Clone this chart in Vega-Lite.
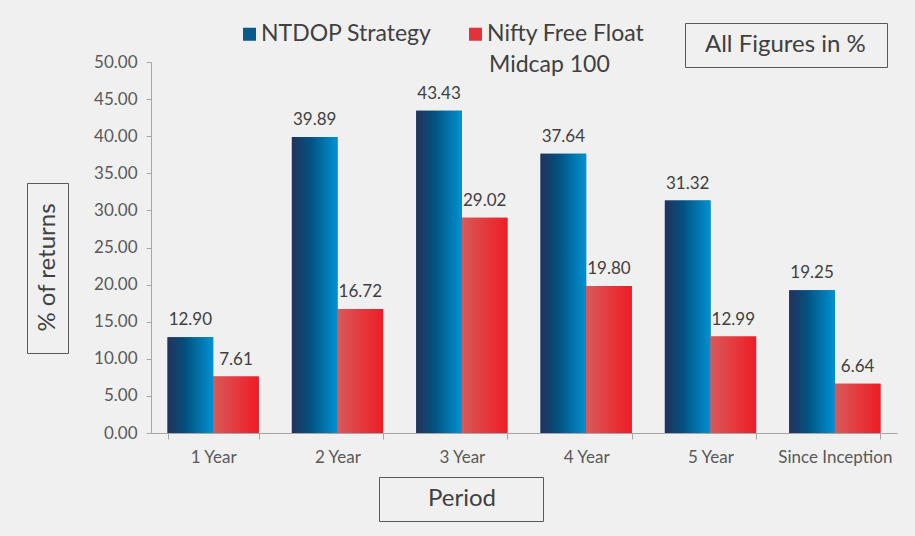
{
  "$schema": "https://vega.github.io/schema/vega-lite/v6.json",
  "width": 746,
  "height": 371,
  "autosize": {"type": "none"},
  "padding": {"left": 151, "top": 62, "right": 18, "bottom": 103},
  "background": "#f0f0f0",
  "config": {
    "view": {"stroke": null},
    "font": "Lato"
  },
  "data": {
    "values": [
      {"period": "1 Year", "series": "NTDOP Strategy", "value": 12.90},
      {"period": "1 Year", "series": "Nifty Free Float Midcap 100", "value": 7.61},
      {"period": "2 Year", "series": "NTDOP Strategy", "value": 39.89},
      {"period": "2 Year", "series": "Nifty Free Float Midcap 100", "value": 16.72},
      {"period": "3 Year", "series": "NTDOP Strategy", "value": 43.43},
      {"period": "3 Year", "series": "Nifty Free Float Midcap 100", "value": 29.02},
      {"period": "4 Year", "series": "NTDOP Strategy", "value": 37.64},
      {"period": "4 Year", "series": "Nifty Free Float Midcap 100", "value": 19.80},
      {"period": "5 Year", "series": "NTDOP Strategy", "value": 31.32},
      {"period": "5 Year", "series": "Nifty Free Float Midcap 100", "value": 12.99},
      {"period": "Since Inception", "series": "NTDOP Strategy", "value": 19.25},
      {"period": "Since Inception", "series": "Nifty Free Float Midcap 100", "value": 6.64}
    ]
  },
  "encoding": {
    "x": {
      "field": "period",
      "type": "nominal",
      "sort": ["1 Year", "2 Year", "3 Year", "4 Year", "5 Year", "Since Inception"],
      "scale": {"paddingInner": 0.266, "paddingOuter": 0.133},
      "axis": {
        "title": null,
        "labelAngle": 0,
        "labelFontSize": 17,
        "labelColor": "#595959",
        "domainColor": "#a6a6a6",
        "tickColor": "#a6a6a6",
        "tickSize": 6,
        "tickBand": "extent",
        "labelPadding": 10
      }
    },
    "xOffset": {
      "field": "series",
      "type": "nominal",
      "sort": ["NTDOP Strategy", "Nifty Free Float Midcap 100"]
    },
    "y": {
      "field": "value",
      "type": "quantitative",
      "scale": {"domain": [0, 50], "nice": false},
      "axis": {
        "title": "% of returns",
        "titleX": -104,
        "titleY": 205,
        "titleAngle": -90,
        "titleAlign": "center",
        "titleBaseline": "middle",
        "titleFontSize": 24,
        "titleFontWeight": "normal",
        "titleColor": "#404040",
        "values": [0, 5, 10, 15, 20, 25, 30, 35, 40, 45, 50],
        "format": ".2f",
        "labelFontSize": 17,
        "labelColor": "#595959",
        "domainColor": "#a6a6a6",
        "tickColor": "#a6a6a6",
        "tickSize": 5,
        "labelPadding": 9,
        "grid": false
      }
    }
  },
  "layer": [
    {
      "mark": {"type": "bar"},
      "encoding": {
        "color": {
          "field": "series",
          "type": "nominal",
          "sort": ["NTDOP Strategy", "Nifty Free Float Midcap 100"],
          "scale": {"domain": ["NTDOP Strategy", "Nifty Free Float Midcap 100"], "range": ["#0a5a8c", "#e3333a"]},
          "legend": {
            "title": null,
            "orient": "none",
            "legendX": 87,
            "legendY": -39.5,
            "padding": 0,
            "direction": "horizontal",
            "columns": 2,
            "columnPadding": 32,
            "labelFontSize": 23,
            "labelColor": "#404040",
            "labelLimit": 400,
            "labelOffset": 0,
            "symbolType": "square",
            "symbolSize": 169,
            "symbolStrokeWidth": 0,
            "labelExpr": "datum.label == 'Nifty Free Float Midcap 100' ? 'Nifty Free Float' : datum.label"
          }
        }
      }
    },
    {
      "mark": {"type": "bar"},
      "encoding": {
        "fill": {
          "condition": {
            "test": "datum.series === 'NTDOP Strategy'",
            "value": {
              "gradient": "linear", "x1": 0, "x2": 1, "y1": 0, "y2": 0,
              "stops": [
                {"offset": 0, "color": "#24315b"},
                {"offset": 0.4, "color": "#03527f"},
                {"offset": 1, "color": "#0092d4"}
              ]
            }
          },
          "value": {
            "gradient": "linear", "x1": 0, "x2": 1, "y1": 0, "y2": 0,
            "stops": [
              {"offset": 0, "color": "#d85a5a"},
              {"offset": 1, "color": "#ee1c25"}
            ]
          }
        }
      }
    },
    {
      "mark": {"type": "text", "dy": -17, "fontSize": 17, "color": "#404040", "baseline": "middle"},
      "encoding": {
        "text": {"field": "value", "type": "quantitative", "format": ".2f"}
      }
    },
    {
      "mark": {"type": "point", "opacity": 0},
      "encoding": {
        "x": null, "xOffset": null, "y": null,
        "shape": {
          "datum": "Midcap 100",
          "type": "nominal",
          "legend": {
            "title": null,
            "orient": "none",
            "legendX": 315,
            "legendY": -8.5,
            "padding": 0,
            "labelFontSize": 23,
            "labelColor": "#404040",
            "labelLimit": 400,
            "labelOffset": 0,
            "symbolSize": 0,
            "symbolOpacity": 0,
            "symbolStrokeWidth": 0
          }
        }
      }
    },
    {
      "mark": {"type": "point", "opacity": 0},
      "encoding": {
        "x": null, "xOffset": null, "y": null,
        "strokeDash": {
          "datum": "All Figures in %",
          "type": "nominal",
          "legend": {
            "title": ".",
            "titleOrient": "right",
            "titleFontSize": 1,
            "titleOpacity": 0,
            "titlePadding": 10,
            "orient": "none",
            "legendX": 534,
            "legendY": -39,
            "padding": 10,
            "strokeColor": "#595959",
            "labelFontSize": 24,
            "labelColor": "#404040",
            "labelLimit": 400,
            "labelOffset": -14,
            "symbolSize": 0,
            "symbolOpacity": 0,
            "symbolStrokeWidth": 0
          }
        }
      }
    },
    {
      "mark": {"type": "point", "opacity": 0},
      "encoding": {
        "x": null, "xOffset": null, "y": null,
        "fill": {
          "datum": "Period",
          "type": "nominal",
          "legend": {
            "title": ".",
            "titleOrient": "right",
            "titleFontSize": 1,
            "titleOpacity": 0,
            "titlePadding": 36,
            "orient": "none",
            "legendX": 228,
            "legendY": 415,
            "padding": 10,
            "strokeColor": "#595959",
            "labelFontSize": 24,
            "labelColor": "#404040",
            "labelLimit": 400,
            "labelOffset": 15,
            "symbolSize": 0,
            "symbolOpacity": 0,
            "symbolStrokeWidth": 0
          }
        }
      }
    },
    {
      "mark": {"type": "point", "opacity": 0},
      "encoding": {
        "x": null, "xOffset": null, "y": null,
        "stroke": {
          "datum": "box",
          "type": "nominal",
          "legend": {
            "title": ".",
            "titleOrient": "top",
            "titleFontSize": 1,
            "titleOpacity": 0,
            "titlePadding": 127,
            "orient": "none",
            "legendX": -124,
            "legendY": 121,
            "padding": 8,
            "strokeColor": "#595959",
            "labelFontSize": 25,
            "labelOffset": 0,
            "labelExpr": "''",
            "symbolSize": 0,
            "symbolOpacity": 0,
            "symbolStrokeWidth": 0
          }
        }
      }
    }
  ]
}
